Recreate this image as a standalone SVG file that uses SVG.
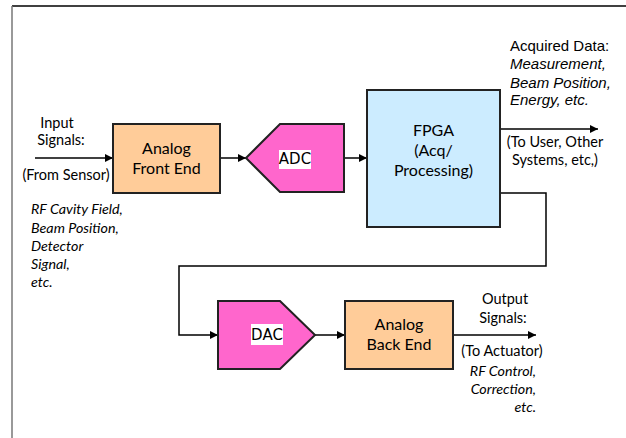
<svg xmlns="http://www.w3.org/2000/svg" width="626" height="438" viewBox="0 0 626 438">
  <defs>
    <marker id="arrow" viewBox="0 0 10 10" refX="10" refY="5" markerWidth="8" markerHeight="10" markerUnits="userSpaceOnUse" orient="auto">
      <path d="M0,0 L10,5 L0,10 Z" fill="#000"/>
    </marker>
    <style>
      .frame { stroke: #000; stroke-width: 1.5; fill: none; }
      .frame-left { stroke: #777; stroke-width: 1.5; fill: none; }
      .conn { stroke: #000; stroke-width: 1.5; fill: none; }
      .block { stroke: #222; stroke-width: 2; }
      .peach { fill: #FFCC99; }
      .pink { fill: #FF66CC; }
      .blue { fill: #CCECFF; }
      .lbl { font-family: Lato, "Open Sans", sans-serif; font-size: 16px; fill: #000; }
      .side { font-family: Lato, "Open Sans", sans-serif; font-size: 14.5px; fill: #000; }
      .it { font-family: Lato, "Open Sans", sans-serif; font-size: 14.3px; font-style: italic; fill: #000; }
      .arial { font-family: "Liberation Sans", Arial, sans-serif; font-size: 15px; fill: #000; }
      .arial-it { font-family: "Liberation Sans", Arial, sans-serif; font-size: 15px; font-style: italic; fill: #000; }
      .conv { font-family: "DejaVu Sans", sans-serif; font-size: 15px; fill: #000; }
      .mid { text-anchor: middle; }
      .end { text-anchor: end; }
    </style>
  </defs>

  <rect width="626" height="438" fill="#fff"/>

  <!-- page frame -->
  <path class="frame" d="M12,6 H626"/>
  <path class="frame-left" d="M12,6 V438"/>

  <!-- connectors -->
  <g id="connectors">
    <path class="conn" d="M35,158 H113" marker-end="url(#arrow)"/>
    <path class="conn" d="M220,158 H246" marker-end="url(#arrow)"/>
    <path class="conn" d="M344,158 H367" marker-end="url(#arrow)"/>
    <path class="conn" d="M500,129 H598" marker-end="url(#arrow)"/>
    <path class="conn" d="M500,193 H546 V266 H179 V335 H218" marker-end="url(#arrow)"/>
    <path class="conn" d="M315,335 H345" marker-end="url(#arrow)"/>
    <path class="conn" d="M453,335 H536" marker-end="url(#arrow)"/>
  </g>

  <!-- input side labels -->
  <g id="input-labels">
    <text class="side mid" x="57" y="128">Input</text>
    <text class="side mid" x="61" y="145">Signals:</text>
    <text class="side mid" x="66" y="180">(From Sensor)</text>
    <text class="it" x="31" y="214">RF Cavity Field,</text>
    <text class="it" x="31" y="233">Beam Position,</text>
    <text class="it" x="31" y="251">Detector</text>
    <text class="it" x="31" y="269">Signal,</text>
    <text class="it" x="31" y="287">etc.</text>
  </g>

  <g id="analog-front-end">
    <rect class="block peach" x="113" y="124" width="107" height="69"/>
    <text class="lbl mid" x="166.5" y="154">Analog</text>
    <text class="lbl mid" x="166.5" y="174">Front End</text>
  </g>

  <g id="adc">
    <polygon class="block pink" points="246,158 280,124 344,124 344,192 280,192"/>
    <rect x="279" y="150" width="32" height="19" fill="#fff"/>
    <text class="conv mid" x="295" y="164">ADC</text>
  </g>

  <g id="fpga">
    <rect class="block blue" x="367" y="90" width="133" height="137"/>
    <text class="lbl mid" x="433.5" y="136">FPGA</text>
    <text class="lbl mid" x="433.5" y="156">(Acq/</text>
    <text class="lbl mid" x="433.5" y="176">Processing)</text>
  </g>

  <!-- acquired data labels -->
  <g id="output-data-labels">
    <text class="arial" x="510" y="51">Acquired Data:</text>
    <text class="arial-it" x="510" y="69">Measurement,</text>
    <text class="arial-it" x="510" y="88">Beam Position,</text>
    <text class="arial-it" x="510" y="105">Energy, etc.</text>
    <text class="side mid" x="555" y="147">(To User, Other</text>
    <text class="side mid" x="555" y="165">Systems, etc,)</text>
  </g>

  <g id="dac">
    <polygon class="block pink" points="218,301 280,301 315,335 280,369 218,369"/>
    <rect x="251" y="324" width="32" height="21" fill="#fff"/>
    <text class="conv mid" x="267" y="340">DAC</text>
  </g>

  <g id="analog-back-end">
    <rect class="block peach" x="345" y="301" width="108" height="68"/>
    <text class="lbl mid" x="399" y="330">Analog</text>
    <text class="lbl mid" x="399" y="350">Back End</text>
  </g>

  <!-- output side labels -->
  <g id="output-labels">
    <text class="side mid" x="505" y="304">Output</text>
    <text class="side mid" x="503" y="323">Signals:</text>
    <text class="side mid" x="502" y="356">(To Actuator)</text>
    <text class="it end" x="536" y="376">RF Control,</text>
    <text class="it end" x="536" y="394">Correction,</text>
    <text class="it end" x="536" y="412">etc.</text>
  </g>
</svg>
